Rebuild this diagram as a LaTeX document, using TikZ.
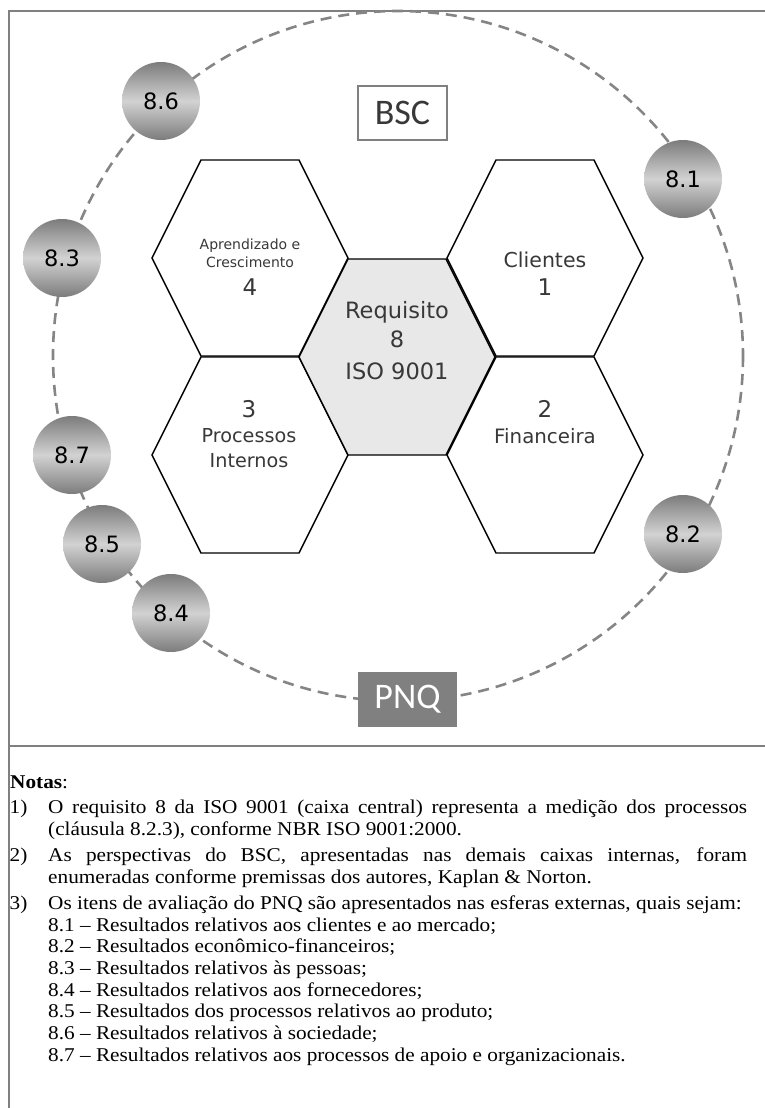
\documentclass[tikz,border=0pt]{standalone}
\usepackage{fontspec}
\setmainfont{Liberation Serif}
\newfontfamily\cellfont{DejaVu Sans}
\newfontfamily\tagfont{Carlito}
\newfontfamily\notefont[FakeStretch=1.09]{Liberation Serif}

\definecolor{framegray}{HTML}{808080}
\definecolor{ringgray}{HTML}{858585}
\definecolor{labelgray}{HTML}{383838}
\definecolor{corefill}{HTML}{E8E8E8}
\definecolor{sphdark}{HTML}{7C7C7C}
\definecolor{sphlight}{HTML}{D2D2D2}

% one honeycomb cell, centred at (#1,#2), filled with #3
\newcommand\honeycell[3]{%
  \draw[cell, fill=#3, shift={(#1,#2)}]
    (-98,0) -- (-49,-98) -- (49,-98) -- (98,0) -- (49,98) -- (-49,98) -- cycle;}

\begin{document}
\begin{tikzpicture}[x=1pt, y=-1pt,
  framerule/.style={draw=framegray, line width=2pt},
  ring/.style={draw=ringgray, line width=2.6pt, dash pattern=on 11pt off 7pt},
  cell/.style={draw=black, line width=1.4pt},
  sphere/.style={circle, minimum size=78pt, inner sep=0pt,
    top color=sphdark, bottom color=sphdark, middle color=sphlight,
    text=black, font=\cellfont\fontsize{22.5}{22.5}\selectfont},
  celltext/.style={anchor=base, inner sep=0pt, text=labelgray},
  digit/.style={celltext, font=\cellfont\fontsize{23}{23}\selectfont},
  corename/.style={celltext, font=\cellfont\fontsize{22.5}{22.5}\selectfont},
  notetext/.style={anchor=base west, inner sep=0pt,
    font=\notefont\fontsize{19.5}{21.7}\selectfont}
]
\useasboundingbox (0,0) rectangle (765,1108);

% outer frame and the rule above the notes
\draw[framerule] (765,11) -- (9,11) -- (9,1108);
\draw[framerule] (9,746) -- (765,746);

% dashed ring of the PNQ items
\draw[ring] (398,356) circle[radius=345];

% honeycomb of the BSC perspectives
\honeycell{250}{258}{white}
\honeycell{545}{258}{white}
\honeycell{250}{455}{white}
\honeycell{545}{455}{white}
\honeycell{397}{357}{corefill}

\node[celltext, font=\cellfont\fontsize{14}{14}\selectfont] (learnA) at (250,249) {Aprendizado e};
\node[celltext, font=\cellfont\fontsize{14}{14}\selectfont] (learnB) at (250,267) {Crescimento};
\node[digit] (learnN) at (250,295) {4};

\node[celltext, font=\cellfont\fontsize{20.5}{20.5}\selectfont] (client) at (545,267) {Clientes};
\node[digit] (clientN) at (545,295) {1};

\node[corename] (coreA) at (397,318) {Requisito};
\node[corename] (coreB) at (397,347) {8};
\node[corename] (coreC) at (397,379) {ISO 9001};

\node[digit] (procN) at (249,417) {3};
\node[celltext, font=\cellfont\fontsize{19.2}{19.2}\selectfont] (procA) at (249,442) {Processos};
\node[celltext, font=\cellfont\fontsize{19.2}{19.2}\selectfont] (procB) at (249,467) {Internos};

\node[digit] (finN) at (545,417) {2};
\node[celltext, font=\cellfont\fontsize{19.8}{19.8}\selectfont] (fin) at (545,443) {Financeira};

% BSC and PNQ tags
\node[draw=framegray, line width=1.5pt, fill=white, minimum width=89pt, minimum height=54pt,
      inner sep=0pt, text=labelgray, font=\tagfont\fontsize{36}{36}\selectfont]
      (bsc) at (402.5,113) {BSC};
\node[fill=framegray, minimum width=99pt, minimum height=55pt, inner sep=0pt,
      text=white, font=\tagfont\fontsize{36}{36}\selectfont]
      (pnq) at (407.5,699.5) {PNQ};

% PNQ spheres on the ring
\node[sphere] (s81) at (683,179) {8.1};
\node[sphere] (s82) at (683,534) {8.2};
\node[sphere] (s83) at (62,258)  {8.3};
\node[sphere] (s84) at (171,613) {8.4};
\node[sphere] (s85) at (102,544) {8.5};
\node[sphere] (s86) at (161,101) {8.6};
\node[sphere] (s87) at (72,455)  {8.7};

% notes
\node[notetext] (notas) at (10,788) {\textbf{Notas}:};
\node[notetext] (n1) at (9.5,813) {1)};
\node[notetext] (n1a) at (48,813) {\makebox[699pt][s]{O requisito 8 da ISO 9001 (caixa central) representa a medição dos processos}};
\node[notetext] (n1b) at (48,835) {(cláusula 8.2.3), conforme NBR ISO 9001:2000.};
\node[notetext] (n2) at (9.5,861) {2)};
\node[notetext] (n2a) at (48,861) {\makebox[699pt][s]{As perspectivas do BSC, apresentadas nas demais caixas internas, foram}};
\node[notetext] (n2b) at (48,883) {enumeradas conforme premissas dos autores, Kaplan \& Norton.};
\node[notetext] (n3) at (9.5,909) {3)};
\node[notetext] (n3a) at (48,909) {Os itens de avaliação do PNQ são apresentados nas esferas externas, quais sejam:};
\node[notetext] (i81) at (48,931)    {8.1 – Resultados relativos aos clientes e ao mercado;};
\node[notetext] (i82) at (48,952.7)  {8.2 – Resultados econômico-financeiros;};
\node[notetext] (i83) at (48,974.4)  {8.3 – Resultados relativos às pessoas;};
\node[notetext] (i84) at (48,996.1)  {8.4 – Resultados relativos aos fornecedores;};
\node[notetext] (i85) at (48,1017.8) {8.5 – Resultados dos processos relativos ao produto;};
\node[notetext] (i86) at (48,1039.5) {8.6 – Resultados relativos à sociedade;};
\node[notetext] (i87) at (48,1061.2) {8.7 – Resultados relativos aos processos de apoio e organizacionais.};
\end{tikzpicture}
\end{document}
